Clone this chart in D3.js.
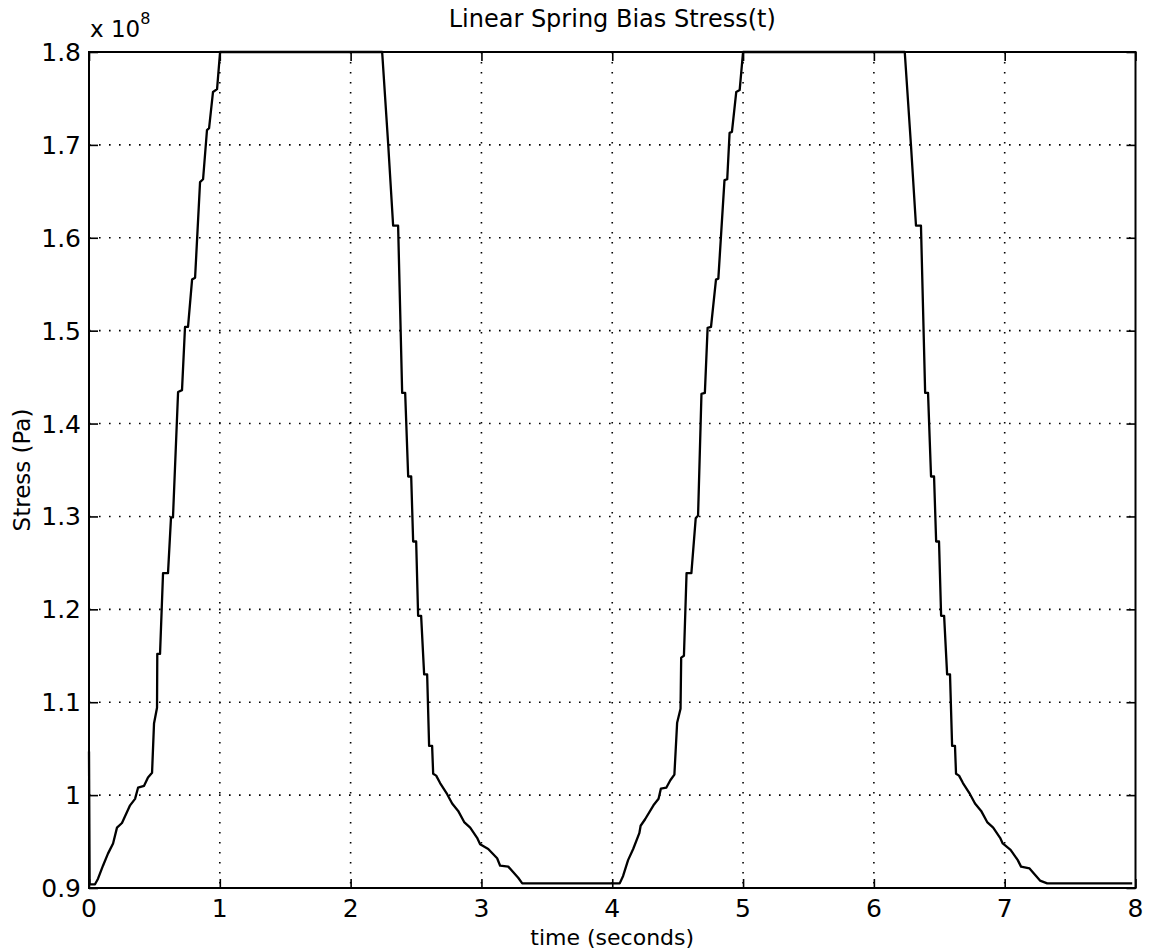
<!DOCTYPE html>
<html>
<head>
<meta charset="utf-8">
<script src="https://cdn.jsdelivr.net/npm/d3@7"></script>
<style>
  body { margin: 0; background: #fff; }
  svg { display: block; font-family: "DejaVu Sans", sans-serif; }
  .grid line { stroke: #000; stroke-width: 1.6; stroke-dasharray: 1.6 8.4; }
</style>
</head>
<body>
<svg id="chart" width="1151" height="952"></svg>
<script>
// stress in units of 1e8 Pa, time in seconds
const startDip = [[0, 1.047], [0.005, 0.904], [0.046, 0.904]];
const rise1 = [[0.069, 0.910], [0.107, 0.924], [0.145, 0.937], [0.184, 0.948], [0.214, 0.965], [0.252, 0.970],
  [0.314, 0.989], [0.352, 0.996], [0.375, 1.008], [0.421, 1.010], [0.451, 1.019], [0.482, 1.024],
  [0.497, 1.077], [0.520, 1.094], [0.522, 1.152], [0.543, 1.152], [0.566, 1.239], [0.604, 1.239],
  [0.627, 1.299], [0.642, 1.299], [0.681, 1.434], [0.711, 1.436], [0.734, 1.504], [0.757, 1.504],
  [0.788, 1.555], [0.811, 1.557], [0.849, 1.660], [0.872, 1.663], [0.902, 1.716], [0.918, 1.718],
  [0.948, 1.757], [0.979, 1.760], [1.002, 1.8]];
const fall1 = [[2.241, 1.8], [2.287, 1.701], [2.325, 1.613], [2.363, 1.613], [2.394, 1.433], [2.417, 1.433],
  [2.440, 1.343], [2.463, 1.343], [2.478, 1.273], [2.501, 1.273], [2.516, 1.193], [2.539, 1.193],
  [2.562, 1.130], [2.585, 1.130], [2.600, 1.053], [2.623, 1.053], [2.631, 1.023], [2.654, 1.021],
  [2.684, 1.013], [2.738, 1.001], [2.776, 0.991], [2.822, 0.983], [2.868, 0.971], [2.914, 0.965],
  [2.967, 0.954], [2.990, 0.947], [3.052, 0.942], [3.120, 0.932], [3.143, 0.924], [3.205, 0.923],
  [3.281, 0.911], [3.312, 0.905], [4.057, 0.905]];
const rise2 = [[4.083, 0.913], [4.121, 0.930], [4.160, 0.942], [4.207, 0.959], [4.217, 0.967], [4.251, 0.974],
  [4.315, 0.989], [4.354, 0.996], [4.372, 1.007], [4.413, 1.008], [4.444, 1.016], [4.475, 1.022],
  [4.496, 1.078], [4.522, 1.093], [4.527, 1.148], [4.548, 1.150], [4.568, 1.239], [4.605, 1.239],
  [4.638, 1.298], [4.656, 1.301], [4.682, 1.432], [4.708, 1.433], [4.729, 1.503], [4.755, 1.504],
  [4.793, 1.555], [4.811, 1.556], [4.858, 1.662], [4.879, 1.663], [4.897, 1.713], [4.915, 1.714],
  [4.948, 1.757], [4.974, 1.759], [5.000, 1.8]];
const fall2 = [[6.236, 1.8], [6.283, 1.701], [6.322, 1.613], [6.360, 1.613], [6.392, 1.433], [6.414, 1.433],
  [6.437, 1.343], [6.460, 1.343], [6.476, 1.273], [6.498, 1.273], [6.514, 1.193], [6.537, 1.193],
  [6.560, 1.130], [6.582, 1.130], [6.598, 1.053], [6.620, 1.053], [6.628, 1.023], [6.651, 1.021],
  [6.681, 1.013], [6.735, 1.001], [6.773, 0.991], [6.820, 0.983], [6.866, 0.971], [6.912, 0.965],
  [6.965, 0.954], [6.985, 0.948], [7.045, 0.941], [7.100, 0.930], [7.125, 0.923], [7.190, 0.921],
  [7.270, 0.908], [7.325, 0.905], [7.975, 0.905]];

const xTicks = [0, 1, 2, 3, 4, 5, 6, 7, 8];
const yTicks = [0.9, 1.0, 1.1, 1.2, 1.3, 1.4, 1.5, 1.6, 1.7, 1.8];

const plotLeft = 89, plotRight = 1135.5, plotTop = 52, plotBottom = 888;
const tickLen = 9;

const svg = d3.select("#chart");

const x = d3.scaleLinear().domain([0, 8]).range([plotLeft, plotRight]);
const y = d3.scaleLinear().domain([0.9, 1.8]).range([plotBottom, plotTop]);

// dotted grid
const grid = svg.append("g").attr("class", "grid");
grid.selectAll(".gx").data(xTicks.slice(1, -1)).enter().append("line")
    .attr("x1", d => x(d)).attr("x2", d => x(d))
    .attr("y1", plotTop).attr("y2", plotBottom);
grid.selectAll(".gy").data(yTicks.slice(1, -1)).enter().append("line")
    .attr("x1", plotLeft).attr("x2", plotRight)
    .attr("y1", d => y(d)).attr("y2", d => y(d));

// the curve
const series = [].concat(startDip, rise1, fall1, rise2, fall2);
const line = d3.line().x(d => x(d[0])).y(d => y(d[1]));
svg.append("path")
    .datum(series)
    .attr("d", line)
    .attr("fill", "none")
    .attr("stroke", "#000")
    .attr("stroke-width", 2.3)
    .attr("stroke-linejoin", "round");

const fmt = d => d3.format(".1f")(d).replace(/\.0$/, "");

// ticks on all four sides, pointing inward
svg.append("g")
    .attr("transform", `translate(0,${plotBottom})`)
    .call(d3.axisTop(x).tickValues(xTicks).tickSize(tickLen).tickFormat(""))
    .call(g => g.select(".domain").remove());
svg.append("g")
    .attr("transform", `translate(0,${plotTop})`)
    .call(d3.axisBottom(x).tickValues(xTicks).tickSize(tickLen).tickFormat(""))
    .call(g => g.select(".domain").remove());
svg.append("g")
    .attr("transform", `translate(${plotLeft},0)`)
    .call(d3.axisRight(y).tickValues(yTicks).tickSize(tickLen).tickFormat(""))
    .call(g => g.select(".domain").remove());
svg.append("g")
    .attr("transform", `translate(${plotRight},0)`)
    .call(d3.axisLeft(y).tickValues(yTicks).tickSize(tickLen).tickFormat(""))
    .call(g => g.select(".domain").remove());
svg.selectAll(".tick line").attr("stroke", "#000").attr("stroke-width", 1.6);

// tick labels
svg.append("g").selectAll("text").data(xTicks).enter().append("text")
    .attr("x", d => x(d)).attr("y", plotBottom + 29)
    .attr("text-anchor", "middle")
    .attr("font-size", 25)
    .text(d => d);
svg.append("g").selectAll("text").data(yTicks).enter().append("text")
    .attr("x", plotLeft - 8).attr("y", d => y(d) + 9)
    .attr("text-anchor", "end")
    .attr("font-size", 25)
    .text(fmt);

// box
svg.append("rect")
    .attr("x", plotLeft).attr("y", plotTop)
    .attr("width", plotRight - plotLeft).attr("height", plotBottom - plotTop)
    .attr("fill", "none").attr("stroke", "#000").attr("stroke-width", 2);

// exponent
const expo = svg.append("text")
    .attr("x", plotLeft + 1).attr("y", 37)
    .attr("font-size", 23);
expo.append("tspan").text("x 10");
expo.append("tspan").attr("dy", -13).attr("font-size", 16).text("8");

// title and axis labels
svg.append("text")
    .attr("x", (plotLeft + plotRight) / 2).attr("y", 27)
    .attr("text-anchor", "middle")
    .attr("font-size", 24)
    .text("Linear Spring Bias Stress(t)");
svg.append("text")
    .attr("x", (plotLeft + plotRight) / 2).attr("y", 945)
    .attr("text-anchor", "middle")
    .attr("font-size", 22)
    .text("time (seconds)");
svg.append("text")
    .attr("transform", `translate(30,${(plotTop + plotBottom) / 2}) rotate(-90)`)
    .attr("text-anchor", "middle")
    .attr("font-size", 23)
    .text("Stress (Pa)");
</script>
</body>
</html>
